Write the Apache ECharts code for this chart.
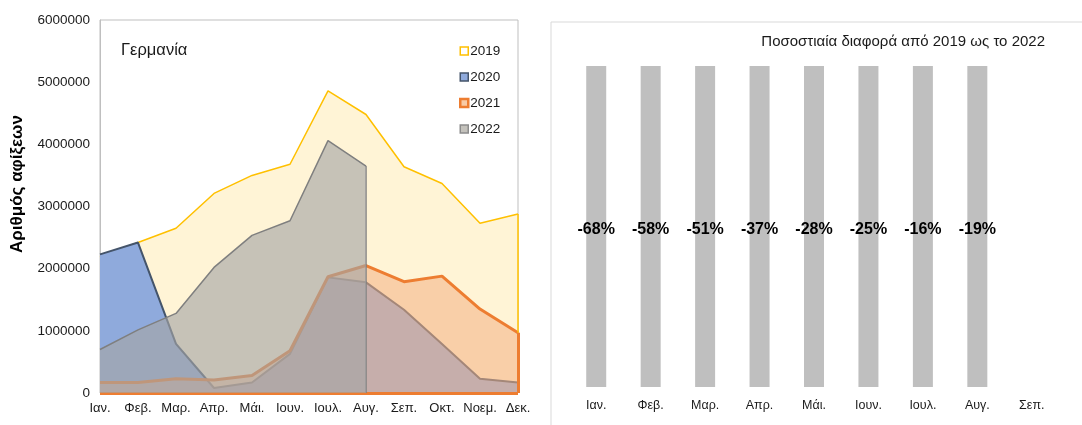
<!DOCTYPE html>
<html>
<head>
<meta charset="utf-8">
<script src="https://cdn.jsdelivr.net/npm/echarts@6/dist/echarts.min.js"></script>
<style>
  html, body { margin: 0; padding: 0; background: #fff; }
  #chart { width: 1082px; height: 425px; }
</style>
</head>
<body>
<div id="chart"></div>
<script>
var months = ['Ιαν.', 'Φεβ.', 'Μαρ.', 'Απρ.', 'Μάι.', 'Ιουν.', 'Ιουλ.', 'Αυγ.', 'Σεπ.', 'Οκτ.', 'Νοεμ.', 'Δεκ.'];
var yTicks = [0, 1000000, 2000000, 3000000, 4000000, 5000000, 6000000];

var arr2019 = [2190000, 2420000, 2650000, 3210000, 3500000, 3680000, 4860000, 4480000, 3640000, 3370000, 2730000, 2880000];
var arr2020 = [2230000, 2420000, 790000, 80000, 170000, 630000, 1860000, 1780000, 1340000, 790000, 230000, 170000];
var arr2021 = [170000, 170000, 230000, 210000, 280000, 680000, 1870000, 2050000, 1790000, 1880000, 1350000, 970000];
var arr2022 = [700000, 1015000, 1280000, 2020000, 2535000, 2770000, 4060000, 3650000, null, null, null, null];

// percentage difference 2019 -> 2022 (right panel, Ιαν. .. Σεπ.)
var diffMonths = ['Ιαν.', 'Φεβ.', 'Μαρ.', 'Απρ.', 'Μάι.', 'Ιουν.', 'Ιουλ.', 'Αυγ.', 'Σεπ.'];
var pctDiff = [-68, -58, -51, -37, -28, -25, -16, -19, null];

var font = 'Liberation Sans, Arial, sans-serif';
var lastIdx = months.length - 1;
var last2022 = 7;

// full-height bars wherever a percentage exists
var barVals = pctDiff.map(function (v) { return v === null ? null : 1; });

var edge = function (color, width, pairs) {
  return {
    silent: true,
    symbol: 'none',
    label: { show: false },
    lineStyle: { color: color, width: width, type: 'solid' },
    data: pairs
  };
};

var chart = echarts.init(document.getElementById('chart'));
chart.setOption({
  animation: false,
  textStyle: { fontFamily: font },
  title: {
    text: 'Γερμανία',
    left: 116,
    top: 37,
    textStyle: { fontSize: 16.5, fontWeight: 'normal', color: '#1a1a1a', fontFamily: font }
  },
  graphic: [{
    type: 'rect',
    shape: { x: 551, y: 22, width: 700, height: 500 },
    style: { fill: 'none', stroke: '#D9D9D9', lineWidth: 1 },
    silent: true
  }, {
    type: 'text',
    right: 1082 - 1045,
    top: 34,
    style: { text: 'Ποσοστιαία διαφορά από 2019 ως το 2022', font: '15px ' + font, fill: '#1a1a1a' }
  }, {
    type: 'text',
    x: 17,
    y: 184,
    rotation: Math.PI / 2,
    style: {
      text: 'Αριθμός αφίξεων',
      font: 'bold 17px ' + font,
      fill: '#000',
      align: 'center',
      verticalAlign: 'middle'
    }
  }],
  legend: {
    orient: 'vertical',
    left: 454,
    top: 39,
    itemWidth: 8,
    itemHeight: 8,
    itemGap: 12,
    icon: 'rect',
    textStyle: { fontSize: 13.5, color: '#1a1a1a', lineHeight: 14, padding: [0, 0, 0, -3] },
    data: [
      { name: '2019', itemStyle: { color: '#FFFFFF', borderColor: '#FFC000', borderWidth: 1.5 } },
      { name: '2020', itemStyle: { color: '#8FAADC', borderColor: '#44546A', borderWidth: 1.5 } },
      { name: '2021', itemStyle: { color: '#F8CBA6', borderColor: '#ED7D31', borderWidth: 2.5 } },
      { name: '2022', itemStyle: { color: '#C4C2BC', borderColor: '#8C8C8C', borderWidth: 1.5 } }
    ]
  },
  grid: [
    { left: 100, right: 564, top: 20, bottom: 32, show: true, borderColor: '#BFBFBF', borderWidth: 1, outerBoundsMode: 'none' },
    { left: 569, width: 490, top: 66, bottom: 38, outerBoundsMode: 'none' }
  ],
  xAxis: [{
    type: 'category',
    gridIndex: 0,
    data: months,
    boundaryGap: false,
    axisLine: { show: false },
    axisTick: { show: false },
    axisLabel: { interval: 0, fontSize: 13, color: '#1a1a1a', margin: 9 }
  }, {
    type: 'category',
    gridIndex: 1,
    data: diffMonths,
    axisLine: { show: false },
    axisTick: { show: false },
    axisLabel: { interval: 0, fontSize: 12.5, color: '#1a1a1a', margin: 12 }
  }],
  yAxis: [{
    type: 'value',
    gridIndex: 0,
    min: yTicks[0],
    max: yTicks[yTicks.length - 1],
    interval: yTicks[1] - yTicks[0],
    axisLine: { show: true, lineStyle: { color: '#BFBFBF' } },
    axisTick: { show: false },
    splitLine: { show: false },
    axisLabel: { fontSize: 13.5, color: '#1a1a1a', margin: 10, formatter: function (v) { return String(v); } }
  }, {
    type: 'value',
    gridIndex: 1,
    min: 0,
    max: 1,
    show: false
  }],
  series: [{
    name: '2019',
    type: 'line',
    z: 2,
    xAxisIndex: 0, yAxisIndex: 0,
    data: arr2019,
    showSymbol: false,
    lineStyle: { color: '#FFC000', width: 1.5 },
    itemStyle: { color: '#FFC000' },
    areaStyle: { color: '#FFF4D6', opacity: 1 },
    markLine: edge('#FFC000', 1.5, [[{ coord: [months[lastIdx], 0] }, { coord: [months[lastIdx], arr2019[lastIdx]] }]])
  }, {
    name: '2020',
    type: 'line',
    z: 3,
    xAxisIndex: 0, yAxisIndex: 0,
    data: arr2020,
    showSymbol: false,
    lineStyle: { color: '#44546A', width: 2 },
    itemStyle: { color: '#44546A' },
    areaStyle: { color: '#8FAADC', opacity: 1 }
  }, {
    name: '2021',
    type: 'line',
    z: 4,
    xAxisIndex: 0, yAxisIndex: 0,
    data: arr2021,
    showSymbol: false,
    lineStyle: { color: '#ED7D31', width: 3 },
    itemStyle: { color: '#ED7D31' },
    areaStyle: { color: '#F4B183', opacity: 0.55 },
    markLine: edge('#ED7D31', 3, [
      [{ coord: [months[lastIdx], 0] }, { coord: [months[lastIdx], arr2021[lastIdx]] }],
      [{ coord: [months[0], 0] }, { coord: [months[lastIdx], 0] }]
    ])
  }, {
    name: '2022',
    type: 'line',
    z: 5,
    xAxisIndex: 0, yAxisIndex: 0,
    data: arr2022,
    showSymbol: false,
    lineStyle: { color: '#7F7F7F', width: 1.5 },
    itemStyle: { color: '#7F7F7F' },
    areaStyle: { color: '#A5A5A5', opacity: 0.63 },
    markLine: edge('#7F7F7F', 1.5, [[{ coord: [months[last2022], 0] }, { coord: [months[last2022], arr2022[last2022]] }]])
  }, {
    name: 'diff',
    type: 'bar',
    xAxisIndex: 1, yAxisIndex: 1,
    data: barVals,
    barWidth: 20,
    itemStyle: { color: '#BFBFBF' },
    label: {
      show: true,
      position: 'inside',
      offset: [0, 3],
      fontSize: 16,
      fontWeight: 'bold',
      color: '#000',
      formatter: function (p) { return pctDiff[p.dataIndex] + '%'; }
    }
  }]
});
</script>
</body>
</html>
